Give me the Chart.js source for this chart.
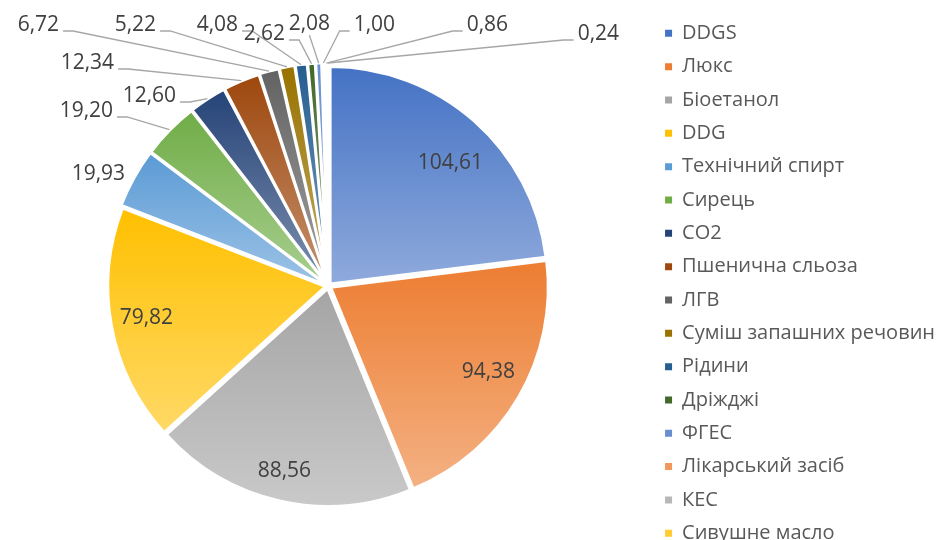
<!DOCTYPE html>
<html>
<head>
<meta charset="utf-8">
<script src="https://cdn.jsdelivr.net/npm/chart.js@4.4.1/dist/chart.umd.min.js"></script>
<style>
    html, body { margin: 0; padding: 0; background: #fff; overflow: hidden; }
    /* the plot box runs past the window bottom, so the last legend entry is cut like in Excel */
    #wrap { width: 946px; height: 562px; position: relative; }
</style>
</head>
<body>
<div id="wrap"><canvas id="pieChart"></canvas></div>
<script>
var categories = [
    "DDGS", "Люкс", "Біоетанол", "DDG", "Технічний спирт", "Сирець", "CO2",
    "Пшенична сльоза", "ЛГВ", "Суміш запашних речовин", "Рідини", "Дріжджі",
    "ФГЕС", "Лікарський засіб", "КЕС", "Сивушне масло"
];
var values = [104.61, 94.38, 88.56, 79.82, 19.93, 19.20, 12.60, 12.34, 6.72, 5.22, 4.08, 2.62, 2.08, 1.00, 0.86, 0.24];
var baseColors = [
    "#4472C4", "#ED7D31", "#A5A5A5", "#FFC000", "#5B9BD5", "#70AD47", "#264478", "#9E480E",
    "#636363", "#997300", "#255E91", "#43682B", "#698ED0", "#F1975A", "#B7B7B7", "#FFCD33"
];
// value label placement, px from the pie centre
var labelOffsets = [
    [122, -123], [160, 86], [-44, 185], [-182, 32],
    [-230, -112], [-242, -175], [-179, -190], [-241, -223],
    [-290, -261], [-193, -261], [-111, -261], [-64, -252],
    [-19, -262], [46, -261], [159, -261], [270, -252]
];

var FONT = '"Open Sans", "Noto Sans", sans-serif';

function tint(hex, f) {
    var n = parseInt(hex.slice(1), 16);
    var r = n >> 16, g = (n >> 8) & 255, b = n & 255;
    r = Math.round(r + (255 - r) * f);
    g = Math.round(g + (255 - g) * f);
    b = Math.round(b + (255 - b) * f);
    return "rgb(" + r + "," + g + "," + b + ")";
}

function fmt(v) {
    return v.toFixed(2).replace(".", ",");
}

// each slice gets its own top-to-bottom gradient, like the Excel fill
var gradientFill = {
    id: "gradientFill",
    beforeDatasetsDraw: function (chart) {
        var ctx = chart.ctx;
        var meta = chart.getDatasetMeta(0);
        meta.data.forEach(function (arc, i) {
            var p = arc.getProps(["x", "y", "startAngle", "endAngle", "outerRadius"], true);
            var ys = [p.y, p.y + p.outerRadius * Math.sin(p.startAngle), p.y + p.outerRadius * Math.sin(p.endAngle)];
            [-Math.PI / 2, Math.PI / 2, 3 * Math.PI / 2].forEach(function (a) {
                if (a > p.startAngle && a < p.endAngle) ys.push(p.y + p.outerRadius * Math.sin(a));
            });
            var top = Math.min.apply(null, ys);
            var bottom = Math.max.apply(null, ys) + 0.5;
            var grad = ctx.createLinearGradient(0, top, 0, bottom);
            grad.addColorStop(0, baseColors[i]);
            grad.addColorStop(1, tint(baseColors[i], 0.4));
            arc.options.backgroundColor = grad;
        });
    }
};

var valueLabels = {
    id: "valueLabels",
    afterDatasetsDraw: function (chart) {
        var ctx = chart.ctx;
        var meta = chart.getDatasetMeta(0);
        ctx.save();
        ctx.font = "21px " + FONT;
        ctx.textAlign = "center";
        ctx.textBaseline = "middle";
        meta.data.forEach(function (arc, i) {
            var p = arc.getProps(["x", "y", "startAngle", "endAngle", "outerRadius"], true);
            var mid = (p.startAngle + p.endAngle) / 2;
            var text = fmt(values[i]);
            var off = labelOffsets[i];
            var lx = p.x + off[0], ly = p.y + off[1];
            var w = ctx.measureText(text).width;
            var ax = p.x + Math.cos(mid) * (p.outerRadius + 6);
            var ay = p.y + Math.sin(mid) * (p.outerRadius + 6);
            // gap between the label box and the slice edge
            var gx = Math.max(lx - w / 2 - ax, 0, ax - (lx + w / 2));
            var gy = Math.max(ly - 10 - ay, 0, ay - (ly + 10));
            var inside = Math.hypot(off[0], off[1]) < p.outerRadius;
            if (!inside && Math.hypot(gx, gy) > 15) {
                var pts;
                if (lx + w / 2 + 4 < ax - 10) {
                    pts = [[lx + w / 2 + 4, ly + 6], [lx + w / 2 + 14, ly + 6], [ax, ay]];
                } else if (lx - w / 2 - 4 > ax + 10) {
                    pts = [[lx - w / 2 - 4, ly + 6], [lx - w / 2 - 14, ly + 6], [ax, ay]];
                } else {
                    pts = [[lx, ly + 11], [ax, ay]];
                }
                ctx.beginPath();
                ctx.strokeStyle = "#a6a6a6";
                ctx.lineWidth = 1.3;
                ctx.moveTo(pts[0][0], pts[0][1]);
                for (var k = 1; k < pts.length; k++) ctx.lineTo(pts[k][0], pts[k][1]);
                ctx.stroke();
            }
            ctx.fillStyle = "#404040";
            ctx.fillText(text, lx, ly);
        });
        ctx.restore();
    }
};

new Chart(document.getElementById("pieChart"), {
    type: "pie",
    data: {
        labels: categories,
        datasets: [{
            data: values,
            backgroundColor: baseColors,
            borderColor: "#ffffff",
            borderWidth: 2.5,
            offset: 12,
            radius: 217
        }]
    },
    options: {
        responsive: true,
        maintainAspectRatio: false,
        animation: false,
        events: [],
        layout: {
            padding: { top: 10, bottom: 0, left: 5, right: 1 }
        },
        plugins: {
            tooltip: { enabled: false },
            legend: {
                position: "right",
                align: "start",
                labels: {
                    boxWidth: 7,
                    boxHeight: 7,
                    padding: 13.33,
                    color: "#595959",
                    font: { family: FONT, size: 20 },
                    generateLabels: function (chart) {
                        var items = Chart.overrides.pie.plugins.legend.labels.generateLabels(chart);
                        items.forEach(function (it) {
                            it.lineWidth = 0;
                            it.strokeStyle = "rgba(0,0,0,0)";
                        });
                        return items;
                    }
                }
            }
        }
    },
    plugins: [gradientFill, valueLabels]
});
</script>
</body>
</html>
